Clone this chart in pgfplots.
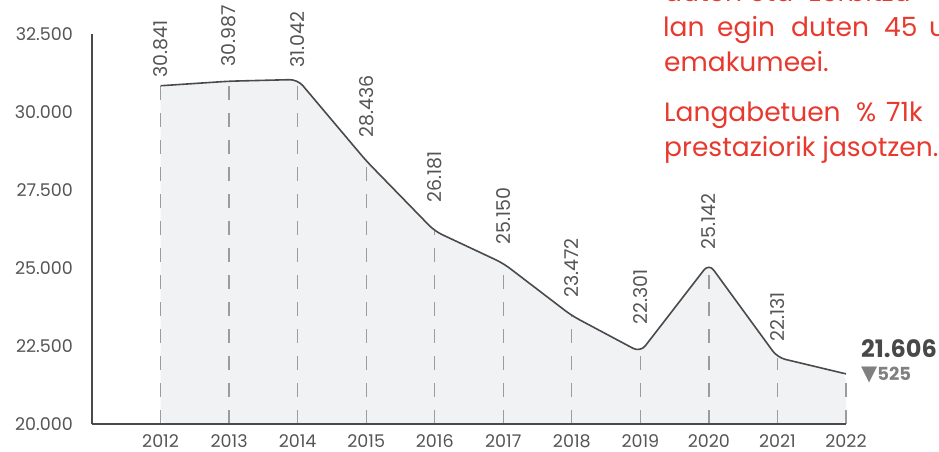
\documentclass[border=0pt]{standalone}
\usepackage{fontspec}
\setmainfont{Poppins}
\newfontfamily\symfont{DejaVu Sans}
\usepackage{pgfplots}
\pgfplotsset{compat=1.18}
\usepackage{pgfplotstable}
\definecolor{linegray}{HTML}{4A4A4C}
\definecolor{fillgray}{HTML}{F1F2F4}
\definecolor{dashgray}{HTML}{9C9C9C}
\definecolor{labgray}{HTML}{555555}
\definecolor{txtred}{HTML}{E8392F}

% langabetuak, urtez urte
\pgfplotstableread{
year value
2012 30841
2013 30987
2014 31042
2015 28436
2016 26181
2017 25150
2018 23472
2019 22301
2020 25142
2021 22131
2022 21606
}\paro

\newcommand{\lab}[3]{\node[rotate=90, anchor=west, inner sep=0pt, text=labgray,
  font=\fontsize{19}{21}\selectfont] at (axis cs:#1,#2) {#3};}
\newcommand{\red}{\fontsize{26.5}{30}\selectfont\color{txtred}}

\begin{document}
\begin{tikzpicture}
\begin{axis}[at={(92pt,28pt)}, anchor=south west, scale only axis,
  width=754pt, height=390pt,
  xmin=2011, xmax=2022, ymin=20000, ymax=32500,
  axis lines=left, axis line style={-, draw=linegray, line width=1.3pt},
  axis on top, scaled y ticks=false,
  major tick length=0pt,
  xtick={2012,2013,2014,2015,2016,2017,2018,2019,2020,2021,2022},
  xticklabels={2012,2013,2014,2015,2016,2017,2018,2019,2020,2021,2022},
  ytick={20000,22500,25000,27500,30000,32500},
  yticklabels={20.000,22.500,25.000,27.500,30.000,32.500},
  tick label style={font=\fontsize{17.5}{19}\selectfont, text=labgray, inner sep=0pt},
  xticklabel style={anchor=north, yshift=-10pt},
  yticklabel style={anchor=east, xshift=-19pt},
  clip=false]
\addplot[fill=fillgray, draw=none, rounded corners=8pt] table[x=year, y=value] {\paro} |- (axis cs:2012,20000) -- cycle;
\addplot[dashgray, line width=1.3pt, dash pattern=on 14pt off 13pt, unbounded coords=jump] coordinates {
  (2012,20000) (2012,30841) (2012,nan)
  (2013,20000) (2013,30987) (2013,nan)
  (2014,20000) (2014,31042) (2014,nan)
  (2015,20000) (2015,28436) (2015,nan)
  (2016,20000) (2016,26181) (2016,nan)
  (2017,20000) (2017,25150) (2017,nan)
  (2018,20000) (2018,23472) (2018,nan)
  (2019,20000) (2019,22301) (2019,nan)
  (2020,20000) (2020,25142) (2020,nan)
  (2021,20000) (2021,22131) (2021,nan)
  (2022,20000) (2022,21606)};
\addplot[linegray, line width=1.6pt, rounded corners=8pt] table[x=year, y=value] {\paro};
\lab{2012}{31089}{30.841}
\lab{2013}{31442}{30.987}
\lab{2014}{31410}{31.042}
\lab{2015}{29166}{28.436}
\lab{2016}{27083}{26.181}
\lab{2017}{25737}{25.150}
\lab{2018}{24038}{23.472}
\lab{2019}{23173}{22.301}
\lab{2020}{25577}{25.142}
\lab{2021}{22628}{22.131}
\end{axis}
\node[anchor=base west, inner sep=0pt, text=labgray!85!black, font=\fontsize{24}{26}\selectfont\bfseries] at (861pt,94pt) {21.606};
\node[anchor=base west, inner sep=0pt, text=gray, font=\fontsize{18}{20}\selectfont\bfseries] at (861pt,71pt) {{\symfont\fontsize{21}{22}\selectfont ▼}525};
% testu gorria, eskuinean moztuta
\node[anchor=base west, inner sep=0pt, font=\red] at (664pt,450pt) {duten};
\node[anchor=base west, inner sep=0pt, font=\red] at (749pt,450pt) {eta};
\node[anchor=base west, inner sep=0pt, font=\red] at (809pt,450pt) {zerbitzu};
\node[anchor=base west, inner sep=0pt, font=\red] at (663pt,415pt) {lan};
\node[anchor=base west, inner sep=0pt, font=\red] at (717pt,415pt) {egin};
\node[anchor=base west, inner sep=0pt, font=\red] at (791pt,415pt) {duten};
\node[anchor=base west, inner sep=0pt, font=\red] at (884pt,415pt) {45};
\node[anchor=base west, inner sep=0pt, font=\red] at (929pt,415pt) {urte};
\node[anchor=base west, inner sep=0pt, font=\red] at (664pt,380pt) {emakumeei.};
\node[anchor=base west, inner sep=0pt, font=\red] at (664pt,330pt) {Langabetuen};
\node[anchor=base west, inner sep=0pt, font=\red] at (856pt,330pt) {\%};
\node[anchor=base west, inner sep=0pt, font=\red] at (886pt,330pt) {71k};
\node[anchor=base west, inner sep=0pt, font=\red] at (664pt,295pt) {prestaziorik jasotzen.};
\pgfresetboundingbox
\useasboundingbox (0pt,0pt) rectangle (939pt,452pt);
\end{tikzpicture}
\end{document}
